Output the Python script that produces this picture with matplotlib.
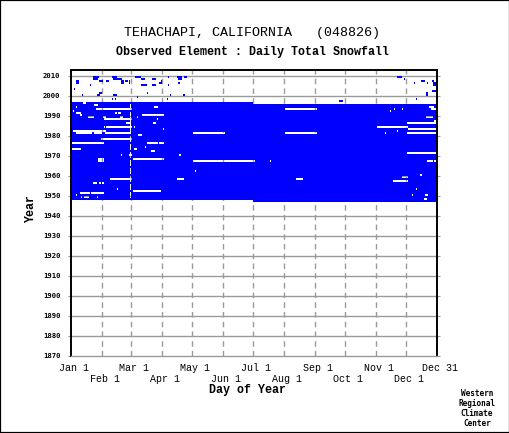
import calendar
import numpy as np
import matplotlib
matplotlib.use("Agg")
import matplotlib.pyplot as plt
from matplotlib.colors import ListedColormap
from matplotlib.patches import Rectangle

TITLE = "TEHACHAPI, CALIFORNIA   (048826)"
SUBTITLE = "Observed Element : Daily Total Snowfall"
CREDIT = ["Western", "Regional", "Climate", "Center"]

# continuous record: (year, day index in a 366-day year); end is exclusive
RECORD_START = (1947, 182)
RECORD_END = (1996, 182)

# missing days inside the record: (year, first day, last day), day index 0..365
GAPS = [
    (1996, 12, 14),
    (1995, 23, 26),
    (1994, 5, 5), (1994, 83, 86), (1994, 358, 362),
    (1993, 25, 60), (1993, 214, 245), (1993, 323, 323), (1993, 331, 331), (1993, 360, 365),
    (1992, 2, 2), (1992, 319, 319),
    (1991, 5, 9), (1991, 44, 45), (1991, 47, 49),
    (1990, 9, 10), (1990, 71, 92),
    (1989, 17, 22), (1989, 32, 34), (1989, 49, 51), (1989, 66, 66), (1989, 355, 361),
    (1988, 33, 60), (1988, 86, 86),
    (1987, 363, 365),
    (1986, 55, 59), (1986, 82, 84), (1986, 336, 365),
    (1984, 33, 33), (1984, 35, 60), (1984, 63, 63), (1984, 306, 336),
    (1983, 92, 92), (1983, 337, 365),
    (1982, 2, 34), (1982, 326, 326),
    (1981, 5, 20), (1981, 23, 30), (1981, 34, 59), (1981, 122, 153),
    (1981, 214, 245), (1981, 314, 314), (1981, 336, 365),
    (1980, 67, 70),
    (1978, 30, 60),
    (1976, 1, 32), (1976, 76, 86), (1976, 88, 92),
    (1974, 74, 74),
    (1973, 1, 9), (1973, 63, 65),
    (1972, 80, 83),
    (1971, 336, 365),
    (1970, 50, 50), (1970, 58, 60), (1970, 108, 109), (1970, 365, 365),
    (1968, 27, 32), (1968, 62, 92),
    (1967, 27, 32), (1967, 122, 183), (1967, 199, 199), (1967, 356, 361), (1967, 363, 365),
    (1962, 124, 124),
    (1960, 349, 350),
    (1959, 331, 336),
    (1958, 39, 60), (1958, 106, 112), (1958, 225, 231),
    (1957, 322, 336),
    (1956, 22, 25), (1956, 28, 29), (1956, 31, 32),
    (1953, 46, 46), (1953, 345, 345),
    (1952, 62, 89),
    (1951, 9, 18), (1951, 20, 32),
    (1950, 5, 5), (1950, 341, 341), (1950, 354, 356),
    (1949, 10, 10), (1949, 13, 17), (1949, 26, 26),
    (1948, 353, 355),
]

# scattered reports after the record ended: (year, first day, last day)
SPARSE = [
    (2009, 22, 27), (2009, 41, 45), (2009, 64, 69), (2009, 97, 97),
    (2009, 106, 110), (2009, 113, 115), (2009, 326, 330),
    (2008, 22, 26), (2008, 42, 50), (2008, 70, 73), (2008, 81, 84),
    (2008, 107, 110), (2008, 333, 333),
    (2007, 5, 7), (2007, 28, 31), (2007, 35, 37), (2007, 50, 52), (2007, 54, 56),
    (2007, 58, 58), (2007, 90, 90), (2007, 350, 353), (2007, 361, 362),
    (2006, 5, 7), (2006, 50, 52), (2006, 58, 58), (2006, 88, 90), (2006, 107, 108),
    (2006, 343, 343), (2006, 356, 356), (2006, 362, 365),
    (2005, 19, 19), (2005, 70, 75), (2005, 81, 84), (2005, 97, 97), (2005, 362, 365),
    (2003, 3, 3),
    (2002, 361, 364),
    (2001, 28, 30), (2001, 76, 76), (2001, 355, 356),
    (2000, 11, 11), (2000, 26, 28), (2000, 42, 45), (2000, 99, 99),
    (2000, 112, 113), (2000, 355, 356),
    (1999, 66, 66),
    (1998, 41, 41), (1998, 44, 44), (1998, 96, 96), (1998, 345, 345),
    (1997, 268, 271),
]

FIRST_YEAR, LAST_YEAR = 1870, 2012
YEAR_TICKS = list(range(1870, 2011, 10))
MONTH_DAYS = [0, 31, 60, 91, 121, 152, 182, 213, 244, 274, 305, 335, 366]
MONTH_LABELS = ["Jan 1", "Feb 1", "Mar 1", "Apr 1", "May 1", "Jun 1", "Jul 1",
                "Aug 1", "Sep 1", "Oct 1", "Nov 1", "Dec 1", "Dec 31"]

years = np.arange(FIRST_YEAR, LAST_YEAR + 1)
cover = np.zeros((len(years), 366))
for i, yr in enumerate(years):
    for d in range(366):
        if RECORD_START <= (yr, d) < RECORD_END:
            cover[i, d] = 1
    if not calendar.isleap(yr):
        cover[i, 59] = 0          # no Feb 29
for yr, a, b in GAPS:
    cover[yr - FIRST_YEAR, a:b + 1] = 0
for yr, a, b in SPARSE:
    cover[yr - FIRST_YEAR, a:b + 1] = 1

MONO = "Liberation Mono"
GRID = "#9a9a9a"

fig = plt.figure(figsize=(5.1, 4.33), dpi=100)
ax = fig.add_axes([71 / 510, 1 - 356 / 433, 366 / 510, 286 / 433])

ax.pcolormesh(np.arange(367), np.arange(FIRST_YEAR, LAST_YEAR + 2),
              np.ma.masked_equal(cover, 0), cmap=ListedColormap(["#0000ff"]),
              vmin=0, vmax=1, shading="flat", antialiased=False, linewidth=0, zorder=2)

for yv in YEAR_TICKS[1:]:
    ax.axhline(yv, color=GRID, lw=1.0, zorder=1)
for d in MONTH_DAYS[1:-1]:
    ax.axvline(d, color=GRID, lw=1.0, ls=(0, (4, 3)), zorder=1)

ax.set_xlim(0, 366)
ax.set_ylim(FIRST_YEAR, LAST_YEAR + 1)
ax.set_xticks([])
ax.set_yticks(YEAR_TICKS)
ax.set_yticklabels([str(y) for y in YEAR_TICKS], fontfamily="DejaVu Sans Mono",
                   fontweight="bold", fontsize=5.2)
ax.tick_params(axis="y", left=True, right=True, direction="out", length=2.5,
               width=0.8, color=GRID, pad=5)

for side in ("left", "right", "top"):
    ax.spines[side].set_color("black")
    ax.spines[side].set_linewidth(1.4)
ax.spines["bottom"].set_color(GRID)
ax.spines["bottom"].set_linewidth(1.0)

for i, (d, lab) in enumerate(zip(MONTH_DAYS, MONTH_LABELS)):
    dy = -8.6 if i % 2 == 0 else -16.2
    ax.annotate(lab, xy=(d, 0), xycoords=("data", "axes fraction"),
                xytext=(2, dy), textcoords="offset points", ha="center", va="center",
                fontfamily=MONO, fontsize=7.2)

fig.text(0.495, 1 - 33 / 433, TITLE, ha="center", va="center",
         fontfamily=MONO, fontsize=9.6)
fig.text(0.496, 1 - 52 / 433, SUBTITLE, ha="center", va="center",
         fontfamily=MONO, fontsize=8.4, fontweight="bold")
fig.text(0.486, 1 - 390 / 433, "Day of Year", ha="center", va="center",
         fontfamily=MONO, fontsize=8.4, fontweight="bold")
fig.text(31 / 510, 1 - 209 / 433, "Year", ha="center", va="center", rotation=90,
         fontfamily=MONO, fontsize=8.4, fontweight="bold")
for k, line in enumerate(CREDIT):
    fig.text(477 / 510, 1 - (394 + 10 * k) / 433, line, ha="center", va="center",
             fontfamily="DejaVu Sans Mono", fontsize=5.6, fontweight="bold")

fig.patches.append(Rectangle((0, 0), 1, 1, transform=fig.transFigure, fill=False,
                             edgecolor="black", linewidth=1.6))

fig.savefig("out.png", dpi=100)
